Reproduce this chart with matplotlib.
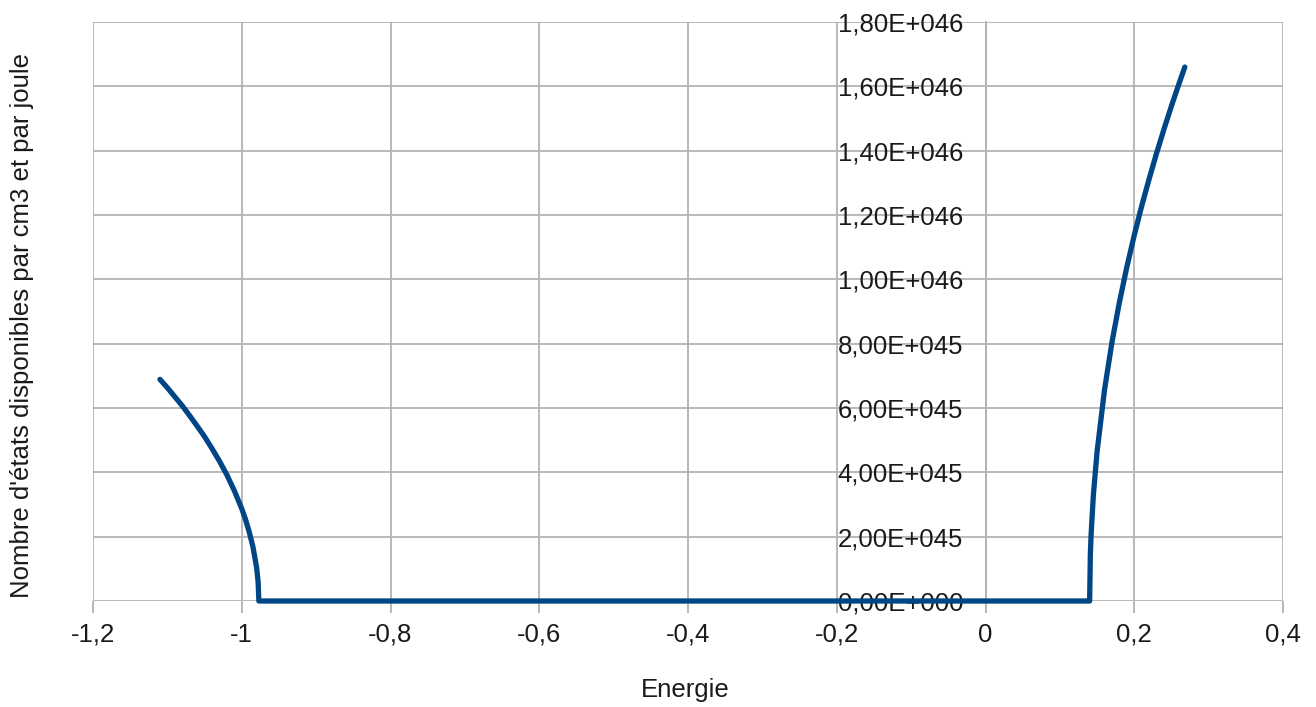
import matplotlib
matplotlib.use("Agg")
import matplotlib.pyplot as plt
from matplotlib.ticker import FuncFormatter, MultipleLocator

plt.rcParams['font.family'] = ['Liberation Sans', 'DejaVu Sans']

# Energie (bande de valence, zone interdite, bande de conduction)
energie_valence = [-1.11, -1.10, -1.09, -1.08, -1.07, -1.06, -1.05, -1.04, -1.03,
                   -1.02, -1.01, -1.00, -0.995, -0.99, -0.985, -0.98, -0.978, -0.977]
etats_valence = [6.89e45, 6.63e45, 6.35e45, 6.07e45, 5.76e45, 5.44e45, 5.11e45, 4.74e45,
                 4.35e45, 3.92e45, 3.43e45, 2.87e45, 2.54e45, 2.15e45, 1.69e45, 1.04e45,
                 0.60e45, 0.0]

energie_gap = [-0.977, 0.14]
etats_gap = [0.0, 0.0]

energie_conduction = [0.14, 0.141, 0.142, 0.145, 0.15, 0.16, 0.17, 0.18, 0.19, 0.20,
                      0.21, 0.22, 0.23, 0.24, 0.25, 0.26, 0.268]
etats_conduction = [0.0, 1.47e45, 2.07e45, 3.28e45, 4.64e45, 6.56e45, 8.04e45, 9.28e45,
                    10.38e45, 11.37e45, 12.28e45, 13.12e45, 13.92e45, 14.67e45, 15.39e45,
                    16.07e45, 16.60e45]

energie = energie_valence + energie_gap[1:] + energie_conduction[1:]
etats = etats_valence + etats_gap[1:] + etats_conduction[1:]

gris = '#b3b3b3'

fig = plt.figure(figsize=(13.16, 7.07), dpi=100)
ax = fig.add_axes([93 / 1316, 106 / 707, 1190 / 1316, 579 / 707])

ax.plot(energie, etats, color='#004586', lw=3.8, clip_on=False,
        solid_capstyle='round', solid_joinstyle='round', zorder=3)

ax.set_xlim(-1.2, 0.4)
ax.set_ylim(0, 1.8e46)
ax.xaxis.set_major_locator(MultipleLocator(0.2))
ax.yaxis.set_major_locator(MultipleLocator(2e45))


def fmt_x(v, pos):
    s = ('%.1f' % v).rstrip('0').rstrip('.')
    if s in ('-0', ''):
        s = '0'
    return s.replace('.', ',')


def fmt_y(v, pos):
    # style tableur : 1,80E+046
    if abs(v) < 1e30:
        return '0,00E+000'
    mant, exp = ('%.2E' % v).split('E')
    return '%sE%s%03d' % (mant.replace('.', ','), exp[0], abs(int(exp)))


ax.xaxis.set_major_formatter(FuncFormatter(fmt_x))
ax.yaxis.set_major_formatter(FuncFormatter(fmt_y))

for s in ['top', 'right', 'bottom']:
    ax.spines[s].set_visible(False)
ax.spines['left'].set_position(('data', 0))
ax.spines['left'].set_color(gris)
ax.spines['left'].set_linewidth(1.3)

ax.grid(True, color=gris, lw=1.3, zorder=0)
ax.set_axisbelow(True)

ax.tick_params(axis='x', length=8.5, width=1.3, color=gris, pad=7,
               labelsize=18.5, labelcolor='#1a1a1a')
ax.tick_params(axis='y', length=0, pad=16, labelsize=18.5, labelcolor='#1a1a1a')

fig.text(22 / 1316, 1 - 326 / 707, "Nombre d'états disponibles par cm3 et par joule",
         rotation=90, ha='center', va='center', fontsize=18.5, color='#1a1a1a')
fig.text(685 / 1316, 1 - 690 / 707, 'Energie', ha='center', va='center',
         fontsize=18.5, color='#1a1a1a')

fig.savefig('out.png', dpi=100)
